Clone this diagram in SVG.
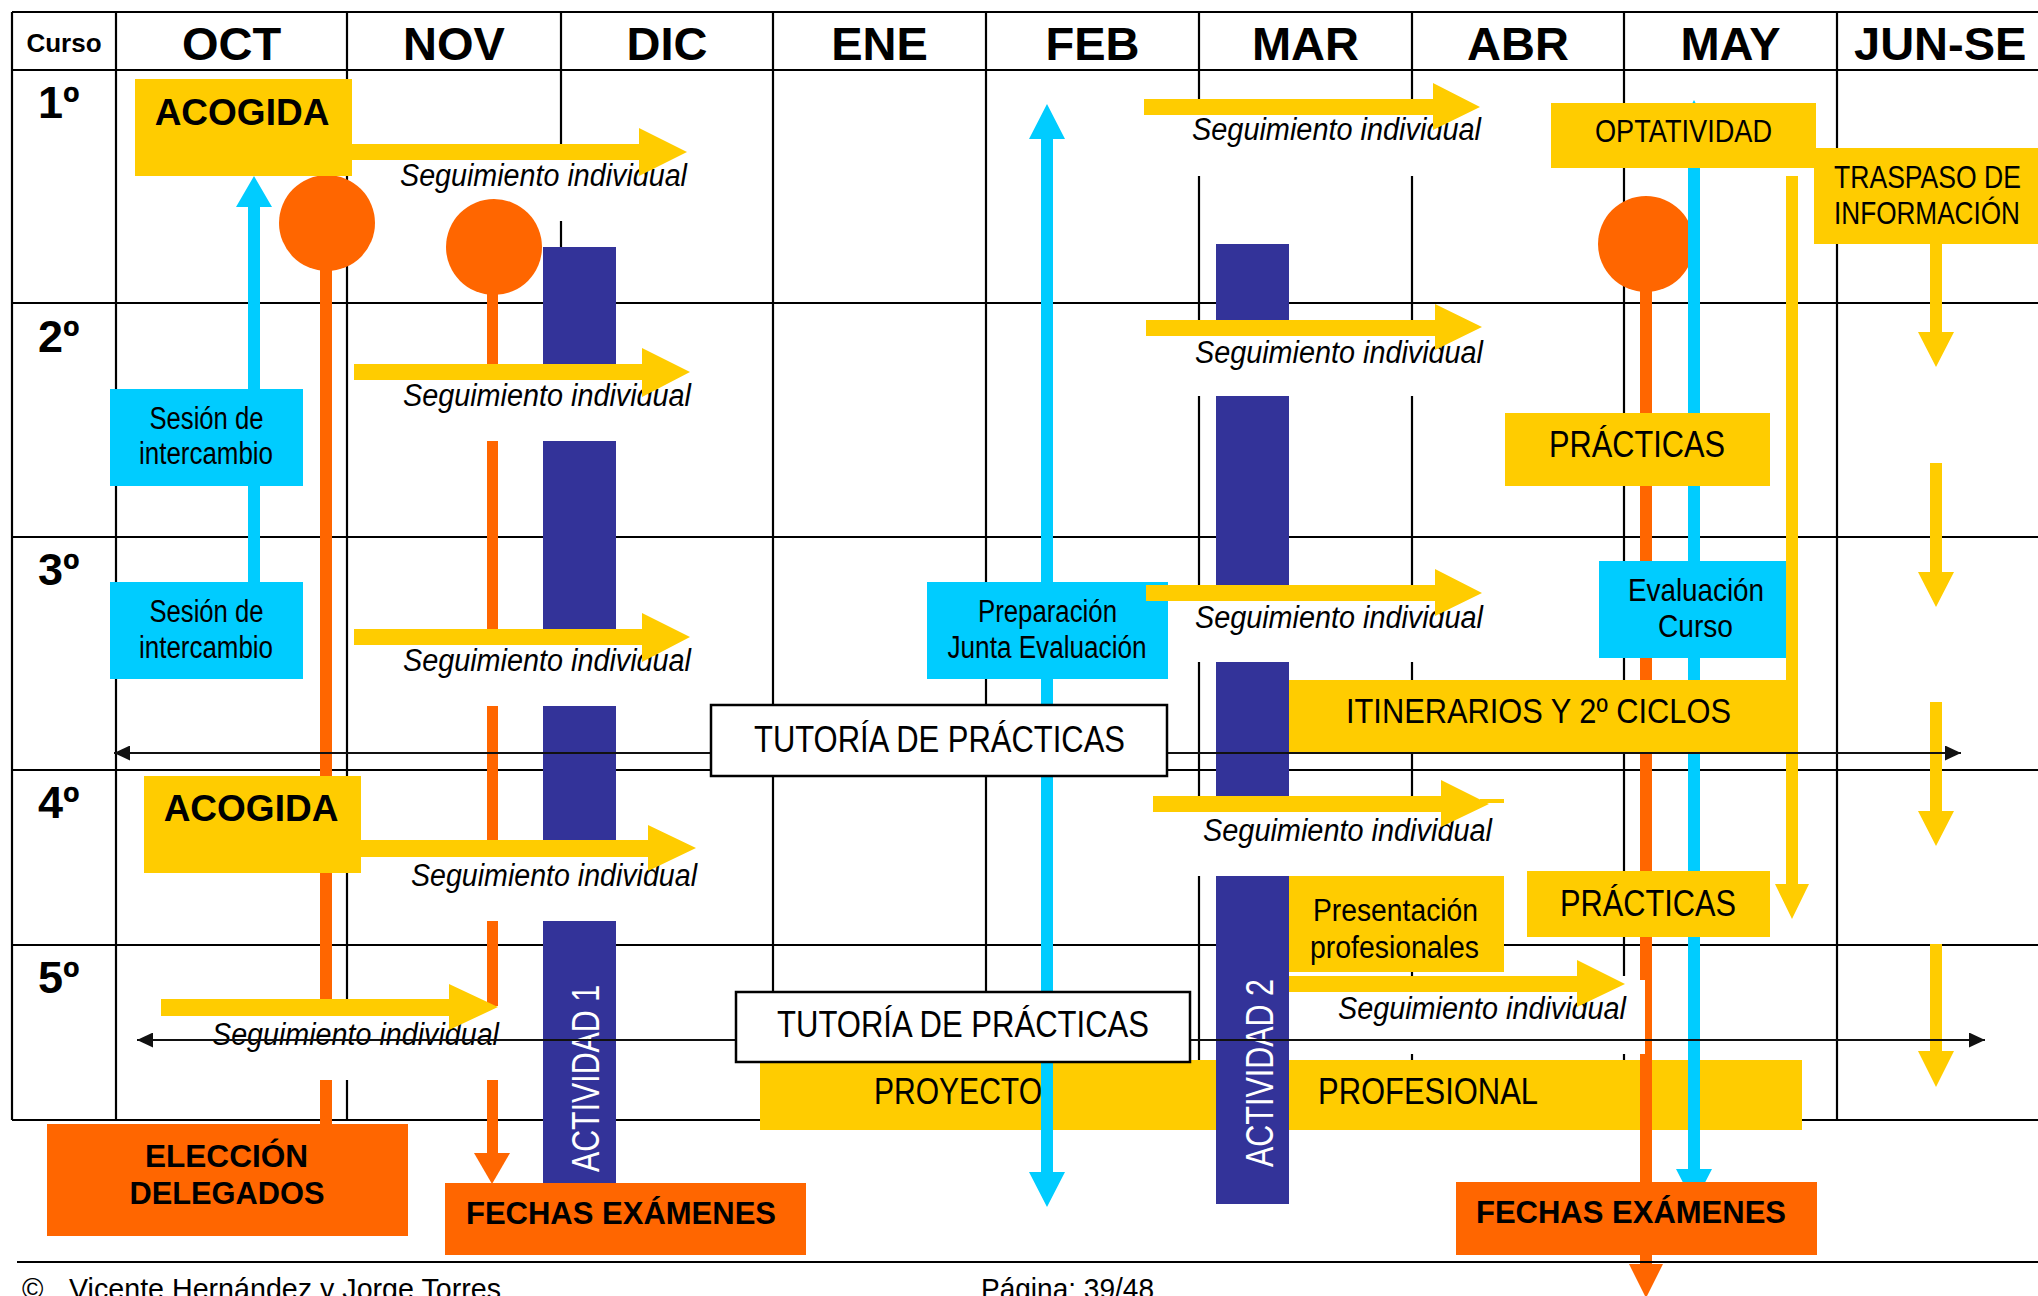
<svg xmlns="http://www.w3.org/2000/svg" width="2038" height="1296" viewBox="0 0 2038 1296">
<defs>
<style>
.g{stroke:#000;stroke-width:2.2;fill:none}
.y{fill:#FFCC00}
.o{fill:#FF6600}
.c{fill:#00CCFF}
.n{fill:#333399}
.w{fill:#FFFFFF}
.t{font-family:"Liberation Sans Narrow","Liberation Sans",Arial,sans-serif;fill:#000}
.b{font-family:"Liberation Sans",Arial,sans-serif;font-weight:bold;fill:#000}
.s{font-family:"Liberation Sans Narrow","Liberation Sans",Arial,sans-serif;font-style:italic;font-size:31px;fill:#000}
.m{text-anchor:middle}
.h{font-size:47px;text-anchor:middle}
.r{font-size:45px}
.tb{fill:#FFFFFF;stroke:#000;stroke-width:2.5}
.bl{stroke:#111;stroke-width:2.2;fill:none}
.f{font-family:"Liberation Sans",Arial,sans-serif;font-size:29px;fill:#000}
</style>
<marker id="ah" viewBox="0 0 16 15" refX="16" refY="7.5" markerWidth="16" markerHeight="15" markerUnits="userSpaceOnUse" orient="auto-start-reverse">
<path d="M0,0 L16,7.5 L0,15 z" fill="#111"/>
</marker>
</defs>
<rect x="0" y="0" width="2038" height="1296" fill="#FFFFFF"/>

<g id="grid">
<path class="g" d="M12,12 H2038 M12,70 H2038 M12,303 H2038 M12,537 H2038 M12,770 H2038 M12,945 H2038 M12,1120 H2038"/>
<path class="g" d="M12,12 V1120 M116,12 V1120 M347,12 V1120 M561,12 V1120 M773,12 V1120 M986,12 V1120 M1199,12 V1120 M1412,12 V1120 M1624,12 V1120 M1837,12 V1120"/>
<text class="b" x="64" y="52" font-size="26" text-anchor="middle">Curso</text>
<text class="b h" x="231.5" y="60">OCT</text>
<text class="b h" x="454" y="60">NOV</text>
<text class="b h" x="667" y="60">DIC</text>
<text class="b h" x="879.5" y="60">ENE</text>
<text class="b h" x="1092.5" y="60">FEB</text>
<text class="b h" x="1305.5" y="60">MAR</text>
<text class="b h" x="1518" y="60">ABR</text>
<text class="b h" x="1730.5" y="60">MAY</text>
<text class="b" x="1854" y="60" font-size="47">JUN-SE</text>
<text class="b r" x="38" y="118">1º</text>
<text class="b r" x="38" y="352">2º</text>
<text class="b r" x="38" y="585">3º</text>
<text class="b r" x="38" y="818">4º</text>
<text class="b r" x="38" y="993">5º</text>
</g>

<g id="seguimiento-labels">
<g id="seg-oct-1"><rect class="w" x="352" y="144" width="338" height="77"/><text class="s" x="400" y="186" textLength="287" lengthAdjust="spacingAndGlyphs">Seguimiento individual</text></g>
<g id="seg-oct-2"><rect class="w" x="354" y="364" width="337" height="77"/><text class="s" x="403" y="406" textLength="288" lengthAdjust="spacingAndGlyphs">Seguimiento individual</text></g>
<g id="seg-oct-3"><rect class="w" x="354" y="629" width="337" height="77"/><text class="s" x="403" y="671" textLength="288" lengthAdjust="spacingAndGlyphs">Seguimiento individual</text></g>
<g id="seg-oct-4"><rect class="w" x="361" y="840" width="337" height="81"/><text class="s" x="411" y="886" textLength="286" lengthAdjust="spacingAndGlyphs">Seguimiento individual</text></g>
<g id="seg-oct-5"><rect class="w" x="161" y="999" width="339" height="81"/><text class="s" x="212" y="1045" textLength="287" lengthAdjust="spacingAndGlyphs">Seguimiento individual</text></g>
<g id="seg-mar-1"><rect class="w" x="1144" y="99" width="337" height="77"/><text class="s" x="1192" y="140" textLength="289" lengthAdjust="spacingAndGlyphs">Seguimiento individual</text></g>
<g id="seg-mar-2"><rect class="w" x="1146" y="320" width="337" height="76"/><text class="s" x="1195" y="363" textLength="288" lengthAdjust="spacingAndGlyphs">Seguimiento individual</text></g>
<g id="seg-mar-3"><rect class="w" x="1146" y="585" width="337" height="77"/><text class="s" x="1195" y="628" textLength="288" lengthAdjust="spacingAndGlyphs">Seguimiento individual</text></g>
<g id="seg-mar-4"><rect class="w" x="1153" y="796" width="351" height="80"/><text class="s" x="1203" y="841" textLength="289" lengthAdjust="spacingAndGlyphs">Seguimiento individual</text></g>
<g id="seg-mar-5"><rect class="w" x="1289" y="976" width="356" height="78"/><text class="s" x="1338" y="1019" textLength="288" lengthAdjust="spacingAndGlyphs">Seguimiento individual</text></g>
</g>

<g id="proyecto-profesional">
<rect class="y" x="760" y="1060" width="1042" height="70"/>
<text class="t m" x="958" y="1104" font-size="37" textLength="168" lengthAdjust="spacingAndGlyphs">PROYECTO</text>
<text class="t m" x="1428" y="1104" font-size="37" textLength="220" lengthAdjust="spacingAndGlyphs">PROFESIONAL</text>
</g>

<g id="actividad-1">
<rect class="n" x="543" y="247" width="73" height="117"/>
<rect class="n" x="543" y="441" width="73" height="188"/>
<rect class="n" x="543" y="706" width="73" height="134"/>
<rect class="n" x="543" y="921" width="73" height="262"/>
<text class="t" transform="translate(599,1172) rotate(-90)" font-size="38" style="fill:#FFFFFF" textLength="187" lengthAdjust="spacingAndGlyphs">ACTIVIDAD 1</text>
</g>
<g id="actividad-2">
<rect class="n" x="1216" y="244" width="73" height="76"/>
<rect class="n" x="1216" y="396" width="73" height="189"/>
<rect class="n" x="1216" y="662" width="73" height="134"/>
<rect class="n" x="1216" y="876" width="73" height="328"/>
<text class="t" transform="translate(1273,1167) rotate(-90)" font-size="38" style="fill:#FFFFFF" textLength="188" lengthAdjust="spacingAndGlyphs">ACTIVIDAD 2</text>
</g>

<g id="preparacion-junta">
<rect class="c" x="927" y="582" width="241" height="97"/>
<text class="t m" x="1047.5" y="622" font-size="31" textLength="139" lengthAdjust="spacingAndGlyphs">Preparación</text>
<text class="t m" x="1047" y="658" font-size="31" textLength="199" lengthAdjust="spacingAndGlyphs">Junta Evaluación</text>
</g>

<g id="connectors">
<circle class="o" cx="327" cy="223" r="48"/>
<rect class="o" x="320" y="265" width="12" height="734"/>
<rect class="o" x="320" y="1080" width="12" height="44"/>
<circle class="o" cx="494" cy="247" r="48"/>
<rect class="o" x="487" y="290" width="11" height="74"/>
<rect class="o" x="487" y="441" width="11" height="188"/>
<rect class="o" x="487" y="706" width="11" height="134"/>
<rect class="o" x="487" y="921" width="11" height="85"/>
<rect class="o" x="487" y="1080" width="11" height="74"/>
<polygon class="o" points="474,1153 510,1153 492,1184"/>
<circle class="o" cx="1646" cy="244" r="48"/>
<rect class="o" x="1640" y="288" width="12" height="692"/>
<rect class="o" x="1645" y="980" width="7" height="74"/>
<rect class="o" x="1640" y="1054" width="12" height="211"/>
<polygon class="o" points="1629,1264 1663,1264 1646,1298"/>
<polygon class="c" points="254,176 272,207 260,207 260,389 248,389 248,207 236,207"/>
<rect class="c" x="248" y="486" width="12" height="96"/>
<polygon class="c" points="1047,104 1065,139 1053,139 1053,582 1041,582 1041,139 1029,139"/>
<polygon class="c" points="1041,679 1053,679 1053,1172 1065,1172 1047,1207 1029,1172 1041,1172"/>
<polygon class="c" points="1694,100 1712,135 1700,135 1700,1169 1712,1169 1694,1204 1676,1169 1688,1169 1688,135 1676,135"/>
<polygon class="y" points="352,144 639,144 639,128 687,152 639,176 639,160 352,160"/>
<polygon class="y" points="354,364 642,364 642,348 690,372 642,397 642,380 354,380"/>
<polygon class="y" points="354,629 642,629 642,613 690,637 642,662 642,645 354,645"/>
<polygon class="y" points="361,840 648,840 648,825 696,848 648,871 648,857 361,857"/>
<polygon class="y" points="161,999 449,999 449,984 498,1007 449,1030 449,1016 161,1016"/>
<polygon class="y" points="1144,99 1433,99 1433,83 1480,107 1433,130 1433,115 1144,115"/>
<polygon class="y" points="1146,320 1435,320 1435,304 1482,327 1435,350 1435,336 1146,336"/>
<polygon class="y" points="1146,585 1435,585 1435,569 1482,593 1435,616 1435,601 1146,601"/>
<polygon class="y" points="1153,796 1441,796 1441,780 1489,804 1441,827 1441,812 1153,812"/>
<rect class="y" x="1480" y="799" width="24" height="4"/>
<polygon class="y" points="1289,976 1577,976 1577,960 1625,984 1577,1007 1577,992 1289,992"/>
<polygon class="y" points="1786,176 1798,176 1798,884 1809,884 1792,919 1775,884 1786,884"/>
<polygon class="y" points="1930,244 1942,244 1942,332 1954,332 1936,367 1918,332 1930,332"/>
<polygon class="y" points="1930,463 1942,463 1942,572 1954,572 1936,607 1918,572 1930,572"/>
<polygon class="y" points="1930,702 1942,702 1942,811 1954,811 1936,846 1918,811 1930,811"/>
<polygon class="y" points="1930,944 1942,944 1942,1051 1954,1051 1936,1087 1918,1051 1930,1051"/>
<path class="bl" d="M114,753 H1961" marker-start="url(#ah)" marker-end="url(#ah)"/>
<path class="bl" d="M137,1040 H1985" marker-start="url(#ah)" marker-end="url(#ah)"/>
</g>

<g id="acogida-1"><rect class="y" x="135" y="79" width="217" height="97"/><text class="b m" x="242" y="125" font-size="37">ACOGIDA</text></g>
<g id="acogida-4"><rect class="y" x="144" y="776" width="217" height="97"/><text class="b m" x="251" y="821" font-size="37">ACOGIDA</text></g>
<g id="sesion-1"><rect class="c" x="110" y="389" width="193" height="97"/>
<text class="t m" x="206.5" y="429" font-size="31" textLength="114" lengthAdjust="spacingAndGlyphs">Sesión de</text>
<text class="t m" x="206" y="464" font-size="31" textLength="134" lengthAdjust="spacingAndGlyphs">intercambio</text></g>
<g id="sesion-2"><rect class="c" x="110" y="582" width="193" height="97"/>
<text class="t m" x="206.5" y="622" font-size="31" textLength="114" lengthAdjust="spacingAndGlyphs">Sesión de</text>
<text class="t m" x="206" y="658" font-size="31" textLength="134" lengthAdjust="spacingAndGlyphs">intercambio</text></g>
<g id="evaluacion-curso"><rect class="c" x="1599" y="561" width="187" height="97"/>
<text class="t m" x="1696" y="601" font-size="32" textLength="136" lengthAdjust="spacingAndGlyphs">Evaluación</text>
<text class="t m" x="1695.5" y="637" font-size="32" textLength="75" lengthAdjust="spacingAndGlyphs">Curso</text></g>
<g id="optatividad"><rect class="y" x="1551" y="103" width="265" height="65"/>
<text class="t m" x="1683.5" y="142" font-size="31" textLength="177" lengthAdjust="spacingAndGlyphs">OPTATIVIDAD</text></g>
<g id="traspaso"><rect class="y" x="1814" y="148" width="224" height="96"/>
<text class="t" x="1834" y="188" font-size="32" textLength="187" lengthAdjust="spacingAndGlyphs">TRASPASO DE</text>
<text class="t" x="1834" y="224" font-size="32" textLength="186" lengthAdjust="spacingAndGlyphs">INFORMACIÓN</text></g>
<g id="practicas-2"><rect class="y" x="1505" y="413" width="265" height="73"/>
<text class="t m" x="1637" y="457" font-size="37" textLength="176" lengthAdjust="spacingAndGlyphs">PRÁCTICAS</text></g>
<g id="itinerarios"><rect class="y" x="1289" y="680" width="508" height="72"/>
<text class="t m" x="1538.5" y="723" font-size="35" textLength="385" lengthAdjust="spacingAndGlyphs">ITINERARIOS Y 2º CICLOS</text></g>
<g id="practicas-4"><rect class="y" x="1527" y="871" width="243" height="66"/>
<text class="t m" x="1648" y="916" font-size="37" textLength="176" lengthAdjust="spacingAndGlyphs">PRÁCTICAS</text></g>
<g id="presentacion"><rect class="y" x="1289" y="876" width="215" height="96"/>
<text class="t m" x="1395.5" y="921" font-size="31" textLength="165" lengthAdjust="spacingAndGlyphs">Presentación</text>
<text class="t m" x="1394.5" y="958" font-size="31" textLength="169" lengthAdjust="spacingAndGlyphs">profesionales</text></g>
<g id="tutoria-1"><rect class="tb" x="711" y="705" width="456" height="71"/>
<text class="t m" x="939.5" y="752" font-size="37" textLength="371" lengthAdjust="spacingAndGlyphs">TUTORÍA DE PRÁCTICAS</text></g>
<g id="tutoria-2"><rect class="tb" x="736" y="992" width="454" height="70"/>
<text class="t m" x="963" y="1037" font-size="37" textLength="372" lengthAdjust="spacingAndGlyphs">TUTORÍA DE PRÁCTICAS</text></g>
<g id="eleccion"><rect class="o" x="47" y="1124" width="361" height="112"/>
<text class="b m" x="226.5" y="1167" font-size="31" textLength="163" lengthAdjust="spacingAndGlyphs">ELECCIÓN</text>
<text class="b m" x="227" y="1204" font-size="31" textLength="195" lengthAdjust="spacingAndGlyphs">DELEGADOS</text></g>
<g id="fechas-1"><rect class="o" x="445" y="1183" width="361" height="72"/>
<text class="b m" x="621" y="1224" font-size="31" textLength="310" lengthAdjust="spacingAndGlyphs">FECHAS EXÁMENES</text></g>
<g id="fechas-2"><rect class="o" x="1456" y="1182" width="361" height="73"/>
<text class="b m" x="1631" y="1223" font-size="31" textLength="310" lengthAdjust="spacingAndGlyphs">FECHAS EXÁMENES</text></g>

<g id="footer">
<path d="M17,1262 H2038" stroke="#000" stroke-width="2"/>
<text class="f" x="22" y="1299">©</text>
<text class="f" x="69" y="1299" textLength="432" lengthAdjust="spacingAndGlyphs">Vicente Hernández y Jorge Torres</text>
<text class="f" x="981" y="1299" textLength="173" lengthAdjust="spacingAndGlyphs">Página: 39/48</text>
</g>
</svg>
